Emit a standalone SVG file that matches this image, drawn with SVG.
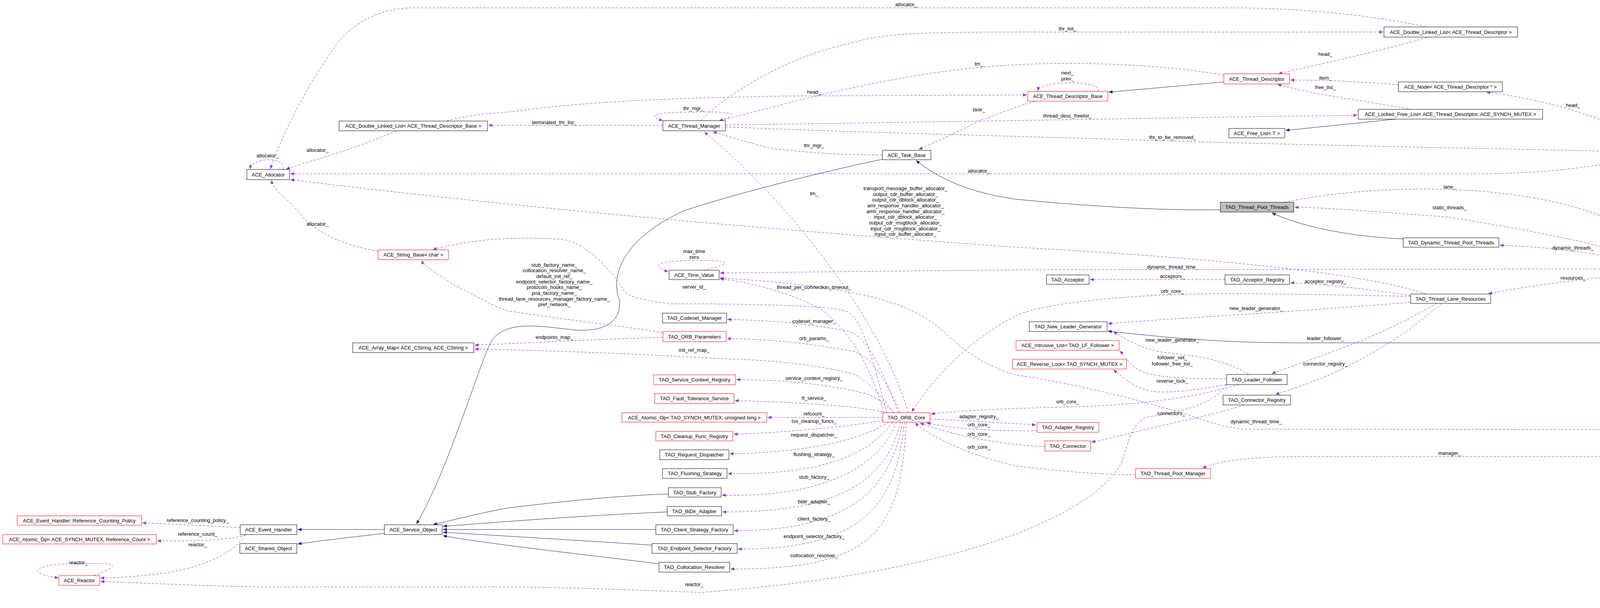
<svg xmlns="http://www.w3.org/2000/svg" width="4877" height="1557" viewBox="0 0 4877 1557">
<style>
.n rect{fill:#fff;stroke:#000;stroke-width:1}
.n.r rect{stroke:#f00}
.n.g rect{fill:#bfbfbf}
text{font-family:"Liberation Sans",Arial,sans-serif;font-size:13px;fill:#000;text-anchor:middle}
.d{fill:none;stroke:#9a32cd;stroke-width:1;stroke-dasharray:6,4;marker-end:url(#ap)}
.s{fill:none;stroke:#191970;stroke-width:1;marker-end:url(#an)}
</style>
<defs>
<marker id="ap" viewBox="0 0 10 8" refX="10" refY="4" markerWidth="10" markerHeight="8" markerUnits="userSpaceOnUse" orient="auto"><path d="M0,0 L10,4 L0,8 z" fill="#9a32cd"/></marker>
<marker id="an" viewBox="0 0 10 8" refX="10" refY="4" markerWidth="10" markerHeight="8" markerUnits="userSpaceOnUse" orient="auto"><path d="M0,0 L10,4 L0,8 z" fill="#191970"/></marker>
</defs>
<rect width="4877" height="1557" fill="#fff"/>
<g id="connectors">
<path class="d" d="M725,434 C735,400 645,402 640,433"/>
<path class="d" d="M3650,69 C3500,35 3300,20 3150,20 L1060,20 C950,20 880,80 850,130 C780,230 720,350 692,433"/>
<path class="d" d="M1015,335 C900,385 800,410 732,433"/>
<path class="d" d="M4197,403 C4100,425 3950,445 3800,445 L743,445"/>
<path class="d" d="M968,643 C880,630 800,590 770,550 C740,510 700,490 695,461"/>
<path class="d" d="M3650,753 C3500,700 3100,660 2600,633 C2000,590 1400,540 743,460"/>
<path class="s" d="M3133,210 L2838,236"/>
<path class="d" d="M2810,234 C2830,205 2660,205 2657,233"/>
<path class="d" d="M1144,309 C1200,295 1250,290 1300,287 C1500,260 1690,252 2000,246 L2629,243"/>
<path class="d" d="M3133,192 C3000,170 2800,155 2600,166 C2300,180 2000,270 1841,309"/>
<path class="d" d="M1845,309 C1900,290 1870,285 1775,287 C1680,287 1650,295 1697,309"/>
<path class="d" d="M1793,309 C1850,250 2000,150 2171,112 C2250,90 2300,82 2600,82 L3541,82"/>
<path class="d" d="M1697,321 L1250,321"/>
<path class="d" d="M1857,320 C2200,315 2600,309 3000,302 L3475,295"/>
<path class="d" d="M1857,325 C2200,340 2600,348 3064,363 C3500,375 3800,380 4106,387"/>
<path class="d" d="M2259,397 C2150,397 2050,390 1963,378 C1900,360 1850,345 1825,337"/>
<path class="d" d="M2650,260 C2600,272 2550,295 2502,311 C2450,340 2400,360 2352,383"/>
<path class="s" d="M2259,408 C2150,430 1900,490 1750,540 C1600,610 1560,700 1586,770 C1590,830 1540,850 1470,845 C1380,835 1300,820 1260,870 C1230,920 1150,1200 1066,1342"/>
<path class="s" d="M3124,537 C3000,540 2800,530 2600,510 C2500,495 2420,470 2345,411"/>
<path class="s" d="M3592,612 C3450,605 3330,580 3256,545"/>
<path class="s" d="M3574,305 L3291,334"/>
<path class="d" d="M3653,96 C3500,140 3350,170 3272,189"/>
<path class="d" d="M3580,217 C3500,210 3400,205 3303,205"/>
<path class="d" d="M3615,280 C3500,260 3350,240 3270,216"/>
<path class="d" d="M4248,378 C4150,320 4000,260 3805,236"/>
<path class="d" d="M3288,518 C3400,495 3550,480 3700,485 C3900,490 4080,530 4165,587 C4210,620 4250,660 4267,675"/>
<path class="d" d="M4252,677 C4150,640 4000,602 3700,555 C3550,545 3400,531 3314,531"/>
<path class="d" d="M4220,677 C4100,650 3950,630 3839,628"/>
<path class="d" d="M4217,689 L3900,689 L2600,691 L1843,699"/>
<path class="d" d="M4217,698 C4100,710 3950,725 3810,752"/>
<path class="d" d="M4352,694 C4450,700 4560,710 4654,720"/>
<path class="d" d="M4648,735 C4550,737 4450,740 4336,703"/>
<path class="s" d="M4751,747 C4700,830 4600,880 4473,890 C4400,892 4350,878 4300,878 L3321,878 C3100,878 2950,860 2836,848"/>
<path class="d" d="M4310,701 C4350,750 4420,800 4470,830 C4580,920 4700,990 4740,1027"/>
<path class="d" d="M4695,1031 C4600,1010 4480,960 4430,900 C4380,840 4320,760 4295,703"/>
<path class="d" d="M4690,1057 C4600,1075 4500,1090 4300,1100 L3180,1099 C3100,1090 3050,1060 2973,1043 C2850,1005 2700,975 2600,960 C2500,930 2450,880 2420,853 C2350,790 2250,735 1843,712"/>
<path class="d" d="M1800,692 C1900,670 1850,667 1777,667 C1690,667 1660,680 1711,696"/>
<path class="d" d="M2270,1057 C2230,900 2200,800 2162,796 C2100,778 1800,778 1715,778 C1650,770 1610,760 1598,745 C1570,700 1500,612 1424,612 C1300,605 1200,615 1108,639"/>
<path class="d" d="M1697,852 C1600,835 1450,820 1300,796 C1250,780 1190,740 1161,730 C1120,700 1090,685 1078,667"/>
<path class="d" d="M1697,864 C1500,870 1400,876 1215,884"/>
<path class="d" d="M2287,1057 C2250,1000 2200,960 2179,956 C2050,925 1900,920 1880,920 C1600,905 1400,897 1215,894"/>
<path class="d" d="M2300,1057 C2260,950 2220,860 2171,848 C2050,825 1950,820 1862,818"/>
<path class="d" d="M2305,1057 C2270,980 2230,905 2179,899 C2050,875 1950,868 1861,867"/>
<path class="d" d="M2290,1057 C2260,1030 2240,1015 2212,1007 C2100,980 1990,973 1885,972"/>
<path class="d" d="M2270,1057 C2200,1040 2050,1030 1881,1026"/>
<path class="d" d="M2260,1069 L1965,1069"/>
<path class="d" d="M2262,1077 C2150,1095 2000,1108 1878,1112"/>
<path class="d" d="M2275,1081 C2200,1130 2050,1160 1868,1162"/>
<path class="d" d="M2285,1081 C2220,1170 2100,1215 1863,1213"/>
<path class="d" d="M2295,1081 C2250,1200 2100,1275 1848,1268"/>
<path class="d" d="M2305,1081 C2270,1230 2150,1313 1849,1311"/>
<path class="d" d="M2310,1081 C2280,1270 2150,1360 1879,1359"/>
<path class="d" d="M2315,1081 C2295,1300 2200,1407 1889,1406"/>
<path class="d" d="M2320,1081 C2305,1350 2250,1460 1870,1457"/>
<path class="d" d="M2325,1057 C2250,800 2000,500 1803,338"/>
<path class="d" d="M2262,1057 C2220,900 2150,830 2100,790 C2000,740 1900,720 1843,714"/>
<path class="s" d="M1711,1265 C1550,1270 1350,1295 1300,1301 C1220,1315 1150,1335 1109,1343"/>
<path class="s" d="M1708,1311 C1500,1320 1300,1335 1134,1348"/>
<path class="s" d="M1679,1356 L1134,1356"/>
<path class="s" d="M1669,1396 C1500,1385 1300,1373 1134,1363"/>
<path class="s" d="M1687,1444 C1500,1420 1300,1400 1134,1372"/>
<path class="s" d="M984,1356 L762,1356"/>
<path class="s" d="M984,1366 C900,1375 820,1385 762,1393"/>
<path class="d" d="M615,1351 C550,1348 450,1342 364,1339"/>
<path class="d" d="M630,1370 C580,1385 480,1386 402,1385"/>
<path class="d" d="M627,1369 C600,1420 500,1460 400,1470 C330,1478 290,1480 257,1480"/>
<path class="d" d="M240,1474 C330,1440 280,1443 200,1443 C90,1443 60,1468 150,1480"/>
<path class="d" d="M3140,985 C3110,1030 3050,1050 2932,1069 C2895,1090 2890,1130 2874,1177 C2850,1240 2750,1310 2600,1368 C2400,1440 2150,1490 1797,1517 C1600,1510 1400,1503 1300,1503 L663,1503 C500,1500 350,1492 257,1489"/>
<path class="d" d="M3185,1037 C3100,1065 3015,1079 2890,1110 C2850,1120 2820,1128 2794,1132"/>
<path class="d" d="M3690,777 C3550,900 3400,970 3265,1010"/>
<path class="d" d="M3678,777 C3500,880 3350,920 3256,957"/>
<path class="d" d="M3611,774 C3300,800 3000,815 2836,829"/>
<path class="d" d="M3197,959 C3150,930 3100,915 3000,905 C2940,900 2900,880 2850,849"/>
<path class="d" d="M3140,970 C3000,972 2948,961 2920,950 C2890,935 2880,910 2866,899"/>
<path class="d" d="M3139,985 C3050,1000 2980,1010 2940,1000 C2900,990 2880,970 2850,947"/>
<path class="d" d="M3172,985 C3050,1020 2932,1033 2800,1040 L2600,1046 C2500,1050 2430,1055 2383,1060"/>
<path class="d" d="M2381,1073 C2450,1076 2550,1082 2652,1088"/>
<path class="d" d="M2655,1103 C2550,1104 2450,1100 2372,1083"/>
<path class="d" d="M2675,1143 C2600,1143 2450,1120 2355,1083"/>
<path class="d" d="M2907,1216 C2800,1215 2700,1205 2600,1193 C2500,1170 2400,1130 2342,1083"/>
<path class="d" d="M3611,759 C3400,755 3200,750 3048,753 C2800,760 2650,785 2600,809 C2500,860 2400,950 2334,1055"/>
<path class="d" d="M3136,716 L2790,716"/>
<path class="d" d="M3611,757 C3500,740 3400,728 3303,724"/>
<path class="d" d="M4736,1055 C4650,1120 4550,1150 4451,1162 C4400,1168 4380,1169 4300,1169 L3346,1169 C3200,1169 3120,1180 3078,1199"/>
</g>
<g id="labels">
<text x="685" y="403">allocator_</text>
<text x="813" y="389">allocator_</text>
<text x="2320" y="16">allocator_</text>
<text x="2506" y="442">allocator_</text>
<text x="813" y="578">allocator_</text>
<text x="2318" y="487">transport_message_buffer_allocator_</text>
<text x="2318" y="502">output_cdr_buffer_allocator_</text>
<text x="2318" y="516">output_cdr_dblock_allocator_</text>
<text x="2318" y="531">ami_response_handler_allocator_</text>
<text x="2318" y="546">amh_response_handler_allocator_</text>
<text x="2318" y="560">input_cdr_dblock_allocator_</text>
<text x="2318" y="575">output_cdr_msgblock_allocator_</text>
<text x="2318" y="590">input_cdr_msgblock_allocator_</text>
<text x="2318" y="604">input_cdr_buffer_allocator_</text>
<text x="2733" y="191">next_</text>
<text x="2733" y="206">prev_</text>
<text x="2084" y="240">head_</text>
<text x="2506" y="168">tm_</text>
<text x="1775" y="282">thr_mgr_</text>
<text x="2733" y="78">thr_list_</text>
<text x="1419" y="318">terminated_thr_list_</text>
<text x="2733" y="301">thread_desc_freelist_</text>
<text x="3002" y="356">thr_to_be_removed_</text>
<text x="2084" y="377">thr_mgr_</text>
<text x="2506" y="285">task_</text>
<text x="3393" y="143">head_</text>
<text x="3393" y="204">item_</text>
<text x="3393" y="228">free_list_</text>
<text x="4027" y="274">head_</text>
<text x="3711" y="483">lane_</text>
<text x="3711" y="536">static_threads_</text>
<text x="4027" y="639">dynamic_threads_</text>
<text x="3002" y="688">dynamic_thread_time_</text>
<text x="4027" y="716">resources_</text>
<text x="4552" y="703">new_thread_generator_</text>
<text x="4552" y="732">lane_</text>
<text x="4552" y="841">pool_</text>
<text x="4552" y="951">lanes_</text>
<text x="3216" y="1084">dynamic_thread_time_</text>
<text x="1777" y="648">max_time</text>
<text x="1777" y="663">zero</text>
<text x="1777" y="739">server_id_</text>
<text x="1419" y="683">stub_factory_name_</text>
<text x="1419" y="697">collocation_resolver_name_</text>
<text x="1419" y="712">default_init_ref_</text>
<text x="1419" y="726">endpoint_selector_factory_name_</text>
<text x="1419" y="740">protocols_hooks_name_</text>
<text x="1419" y="755">poa_factory_name_</text>
<text x="1419" y="770">thread_lane_resources_manager_factory_name_</text>
<text x="1419" y="784">pref_network_</text>
<text x="1419" y="868">endpoints_map_</text>
<text x="1777" y="901">init_ref_map_</text>
<text x="2084" y="827">codeset_manager_</text>
<text x="2084" y="871">orb_params_</text>
<text x="2084" y="973">service_context_registry_</text>
<text x="2084" y="1024">ft_service_</text>
<text x="2084" y="1064">refcount_</text>
<text x="2084" y="1083">tss_cleanup_funcs_</text>
<text x="2084" y="1118">request_dispatcher_</text>
<text x="2084" y="1168">flushing_strategy_</text>
<text x="2084" y="1226">stub_factory_</text>
<text x="2084" y="1289">bidir_adapter_</text>
<text x="2084" y="1333">client_factory_</text>
<text x="2084" y="1378">endpoint_selector_factory_</text>
<text x="2084" y="1427">collocation_resolver_</text>
<text x="2084" y="500">tm_</text>
<text x="2084" y="740">thread_per_connection_timeout_</text>
<text x="506" y="1337">reference_counting_policy_</text>
<text x="506" y="1372">reference_count_</text>
<text x="506" y="1399">reactor_</text>
<text x="201" y="1445">reactor_</text>
<text x="1777" y="1501">reactor_</text>
<text x="2998" y="1063">connectors_</text>
<text x="3393" y="936">connector_registry_</text>
<text x="3393" y="871">leader_follower_</text>
<text x="3216" y="794">new_leader_generator_</text>
<text x="3001" y="875">new_leader_generator_</text>
<text x="3001" y="920">follower_set_</text>
<text x="3001" y="936">follower_free_list_</text>
<text x="3001" y="980">reverse_lock_</text>
<text x="2733" y="1033">orb_core_</text>
<text x="2506" y="1071">adapter_registry_</text>
<text x="2506" y="1092">orb_core_</text>
<text x="2506" y="1116">orb_core_</text>
<text x="2506" y="1149">orb_core_</text>
<text x="3001" y="750">orb_core_</text>
<text x="3001" y="712">acceptors_</text>
<text x="3393" y="725">acceptor_registry_</text>
<text x="3711" y="1165">manager_</text>
</g>
<g id="n_alloc" class="n"><rect x="632" y="434" width="109" height="26"/><text x="686.5" y="451.5">ACE_Allocator</text></g>
<g id="n_dll_base" class="n"><rect x="868" y="310" width="380" height="25"/><text x="1058" y="327">ACE_Double_Linked_List&lt; ACE_Thread_Descriptor_Base &gt;</text></g>
<g id="n_strbase" class="n r"><rect x="968" y="640" width="180" height="25"/><text x="1058" y="657">ACE_String_Base&lt; char &gt;</text></g>
<g id="n_thrmgr" class="n"><rect x="1697" y="309" width="160" height="26"/><text x="1777" y="326.5">ACE_Thread_Manager</text></g>
<g id="n_task" class="n"><rect x="2259" y="385" width="124" height="24"/><text x="2321" y="401.5">ACE_Task_Base</text></g>
<g id="n_time" class="n"><rect x="1713" y="692" width="128" height="24"/><text x="1777" y="708.5">ACE_Time_Value</text></g>
<g id="n_dll_td" class="n"><rect x="3543" y="69" width="342" height="26"/><text x="3714" y="86.5">ACE_Double_Linked_List&lt; ACE_Thread_Descriptor &gt;</text></g>
<g id="n_td" class="n r"><rect x="3133" y="189" width="168" height="26"/><text x="3217" y="206.5">ACE_Thread_Descriptor</text></g>
<g id="n_tdb" class="n r"><rect x="2631" y="234" width="205" height="25"/><text x="2733.5" y="251">ACE_Thread_Descriptor_Base</text></g>
<g id="n_node" class="n"><rect x="3580" y="210" width="266" height="25"/><text x="3713" y="227">ACE_Node&lt; ACE_Thread_Descriptor * &gt;</text></g>
<g id="n_lfl" class="n"><rect x="3477" y="280" width="472" height="25"/><text x="3713" y="297">ACE_Locked_Free_List&lt; ACE_Thread_Descriptor, ACE_SYNCH_MUTEX &gt;</text></g>
<g id="n_fl" class="n"><rect x="3146" y="329" width="143" height="24"/><text x="3217.5" y="345.5">ACE_Free_List&lt; T &gt;</text></g>
<g id="n_tpt" class="n g"><rect x="3124" y="518" width="188" height="25"/><text x="3218" y="535">TAO_Thread_Pool_Threads</text></g>
<g id="n_dtpt" class="n"><rect x="3592" y="609" width="245" height="24"/><text x="3714.5" y="625.5">TAO_Dynamic_Thread_Pool_Threads</text></g>
<g id="n_acc" class="n"><rect x="2679" y="704" width="109" height="24"/><text x="2733.5" y="720.5">TAO_Acceptor</text></g>
<g id="n_accreg" class="n"><rect x="3136" y="704" width="165" height="24"/><text x="3218.5" y="720.5">TAO_Acceptor_Registry</text></g>
<g id="n_tlr" class="n"><rect x="3611" y="753" width="205" height="24"/><text x="3713.5" y="769.5">TAO_Thread_Lane_Resources</text></g>
<g id="n_uq" class="n"><rect x="4108" y="378" width="351" height="25"/><text x="4283.5" y="395">ACE_Unbounded_Queue&lt; ACE_Thread_Descriptor * &gt;</text></g>
<g id="n_lane" class="n"><rect x="4217" y="677" width="135" height="24"/><text x="4284.5" y="693.5">TAO_Thread_Lane</text></g>
<g id="n_rtnlg" class="n"><rect x="4648" y="721" width="225" height="26"/><text x="4760.5" y="738.5">TAO_RT_New_Leader_Generator</text></g>
<g id="n_amap" class="n"><rect x="903" y="878" width="310" height="25"/><text x="1058" y="895">ACE_Array_Map&lt; ACE_CString, ACE_CString &gt;</text></g>
<g id="n_rcp" class="n r"><rect x="44" y="1321" width="318" height="24"/><text x="203" y="1337.5">ACE_Event_Handler::Reference_Counting_Policy</text></g>
<g id="n_aop1" class="n r"><rect x="7" y="1369" width="393" height="24"/><text x="203.5" y="1385.5">ACE_Atomic_Op&lt; ACE_SYNCH_MUTEX, Reference_Count &gt;</text></g>
<g id="n_eh" class="n"><rect x="615" y="1344" width="145" height="25"/><text x="687.5" y="1361">ACE_Event_Handler</text></g>
<g id="n_so" class="n"><rect x="614" y="1392" width="146" height="25"/><text x="687" y="1409">ACE_Shared_Object</text></g>
<g id="n_svc" class="n"><rect x="984" y="1344" width="148" height="25"/><text x="1058" y="1361">ACE_Service_Object</text></g>
<g id="n_reactor" class="n r"><rect x="151" y="1474" width="104" height="25"/><text x="203" y="1491">ACE_Reactor</text></g>
<g id="n_codeset" class="n"><rect x="1696" y="802" width="164" height="25"/><text x="1778" y="819">TAO_Codeset_Manager</text></g>
<g id="n_orbp" class="n r"><rect x="1697" y="849" width="162" height="26"/><text x="1778" y="866.5">TAO_ORB_Parameters</text></g>
<g id="n_scr" class="n r"><rect x="1673" y="960" width="210" height="25"/><text x="1778" y="977">TAO_Service_Context_Registry</text></g>
<g id="n_fts" class="n r"><rect x="1676" y="1008" width="203" height="25"/><text x="1777.5" y="1025">TAO_Fault_Tolerance_Service</text></g>
<g id="n_aop2" class="n r"><rect x="1592" y="1057" width="371" height="24"/><text x="1777.5" y="1073.5">ACE_Atomic_Op&lt; TAO_SYNCH_MUTEX, unsigned long &gt;</text></g>
<g id="n_cfr" class="n r"><rect x="1679" y="1105" width="197" height="24"/><text x="1777.5" y="1121.5">TAO_Cleanup_Func_Registry</text></g>
<g id="n_rd" class="n"><rect x="1689" y="1152" width="177" height="25"/><text x="1777.5" y="1169">TAO_Request_Dispatcher</text></g>
<g id="n_fs" class="n"><rect x="1696" y="1200" width="165" height="25"/><text x="1778.5" y="1217">TAO_Flushing_Strategy</text></g>
<g id="n_stub" class="n"><rect x="1711" y="1249" width="135" height="24"/><text x="1778.5" y="1265.5">TAO_Stub_Factory</text></g>
<g id="n_bidir" class="n"><rect x="1708" y="1297" width="139" height="24"/><text x="1777.5" y="1313.5">TAO_BiDir_Adapter</text></g>
<g id="n_csf" class="n"><rect x="1679" y="1344" width="198" height="25"/><text x="1778" y="1361">TAO_Client_Strategy_Factory</text></g>
<g id="n_esf" class="n"><rect x="1669" y="1392" width="218" height="25"/><text x="1778" y="1409">TAO_Endpoint_Selector_Factory</text></g>
<g id="n_colr" class="n"><rect x="1687" y="1440" width="181" height="25"/><text x="1777.5" y="1457">TAO_Collocation_Resolver</text></g>
<g id="n_orbc" class="n r"><rect x="2260" y="1057" width="121" height="24"/><text x="2320.5" y="1073.5">TAO_ORB_Core</text></g>
<g id="n_nlg" class="n"><rect x="2635" y="824" width="199" height="25"/><text x="2734.5" y="841">TAO_New_Leader_Generator</text></g>
<g id="n_ilist" class="n r"><rect x="2601" y="872" width="264" height="25"/><text x="2733" y="889">ACE_Intrusive_List&lt; TAO_LF_Follower &gt;</text></g>
<g id="n_rlock" class="n r"><rect x="2592" y="920" width="292" height="25"/><text x="2738" y="937">ACE_Reverse_Lock&lt; TAO_SYNCH_MUTEX &gt;</text></g>
<g id="n_lf" class="n"><rect x="3140" y="959" width="155" height="26"/><text x="3217.5" y="976.5">TAO_Leader_Follower</text></g>
<g id="n_creg" class="n"><rect x="3131" y="1012" width="173" height="25"/><text x="3217.5" y="1029">TAO_Connector_Registry</text></g>
<g id="n_areg" class="n r"><rect x="2655" y="1082" width="158" height="25"/><text x="2734" y="1099">TAO_Adapter_Registry</text></g>
<g id="n_conn" class="n r"><rect x="2675" y="1129" width="117" height="26"/><text x="2733.5" y="1146.5">TAO_Connector</text></g>
<g id="n_tpm" class="n r"><rect x="2907" y="1200" width="192" height="25"/><text x="3003" y="1217">TAO_Thread_Pool_Manager</text></g>
<g id="n_tp" class="n"><rect x="4695" y="1029" width="133" height="26"/><text x="4761.5" y="1046.5">TAO_Thread_Pool</text></g>
</svg>
